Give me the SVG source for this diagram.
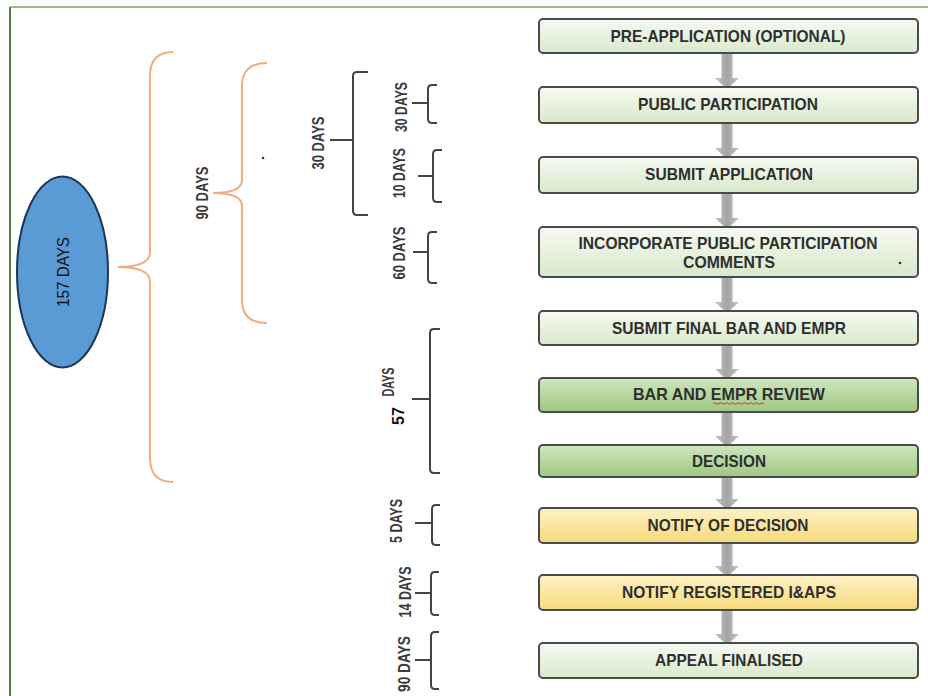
<svg xmlns="http://www.w3.org/2000/svg" width="928" height="696" viewBox="0 0 928 696">
<defs>
<linearGradient id="gLight" x1="0" y1="0" x2="0" y2="1"><stop offset="0" stop-color="#f6faf2"/><stop offset="1" stop-color="#d8e9cb"/></linearGradient>
<linearGradient id="gGreen" x1="0" y1="0" x2="0" y2="1"><stop offset="0" stop-color="#cfe6bf"/><stop offset="1" stop-color="#9dc882"/></linearGradient>
<linearGradient id="gYellow" x1="0" y1="0" x2="0" y2="1"><stop offset="0" stop-color="#fff3c6"/><stop offset="1" stop-color="#f5d97a"/></linearGradient>
<linearGradient id="gArrow" x1="0" y1="0" x2="1" y2="0"><stop offset="0" stop-color="#c4c4c4"/><stop offset="0.5" stop-color="#a4a4a4"/><stop offset="1" stop-color="#c4c4c4"/></linearGradient>
</defs>
<style>
.box{stroke:#4a4a4a;stroke-width:2}
.lt{fill:url(#gLight)}
.gr{fill:url(#gGreen)}
.ye{fill:url(#gYellow)}
.bt{font-family:"Liberation Sans",Arial,sans-serif;font-weight:bold;font-size:16.5px;fill:#2f2f2f;text-anchor:middle}
.lab{font-family:"Liberation Sans",Arial,sans-serif;font-weight:bold;font-size:16px;fill:#3a3a3a;text-anchor:middle}
.brk{fill:none;stroke:#444;stroke-width:2;stroke-linejoin:round}
.brace{fill:none;stroke:#f2ad7e;stroke-width:2}
.arrow{fill:url(#gArrow)}
</style>
<rect width="928" height="696" fill="#ffffff"/>
<g id="frame">
<line x1="10" y1="7" x2="10" y2="696" stroke="#4e7b3a" stroke-width="2"/>
<line x1="10" y1="7" x2="928" y2="7" stroke="#7aa35e" stroke-width="1.5"/>
</g>

<g id="connectors">
<path class="arrow" d="M721.5,53 H732.5 V78 H739 L727,89 L715,78 H721.5 Z"/>
<path class="arrow" d="M721.5,123 H732.5 V148 H739 L727,159 L715,148 H721.5 Z"/>
<path class="arrow" d="M721.5,193 H732.5 V218 H739 L727,229 L715,218 H721.5 Z"/>
<path class="arrow" d="M721.5,277 H732.5 V302 H739 L727,313 L715,302 H721.5 Z"/>
<path class="arrow" d="M721.5,345 H732.5 V369 H739 L727,380 L715,369 H721.5 Z"/>
<path class="arrow" d="M721.5,412 H732.5 V436 H739 L727,447 L715,436 H721.5 Z"/>
<path class="arrow" d="M721.5,477 H732.5 V499 H739 L727,510 L715,499 H721.5 Z"/>
<path class="arrow" d="M721.5,543 H732.5 V566 H739 L727,577 L715,566 H721.5 Z"/>
<path class="arrow" d="M721.5,610 H732.5 V634 H739 L727,645 L715,634 H721.5 Z"/>
</g>

<g id="n1"><rect class="box lt" x="539" y="19" width="379" height="34" rx="4"/><text class="bt" x="728" y="42" textLength="235" lengthAdjust="spacingAndGlyphs">PRE-APPLICATION (OPTIONAL)</text></g>
<g id="n2"><rect class="box lt" x="539" y="87" width="379" height="36" rx="4"/><text class="bt" x="728" y="110" textLength="180" lengthAdjust="spacingAndGlyphs">PUBLIC PARTICIPATION</text></g>
<g id="n3"><rect class="box lt" x="539" y="157" width="379" height="36" rx="4"/><text class="bt" x="729" y="180" textLength="168" lengthAdjust="spacingAndGlyphs">SUBMIT APPLICATION</text></g>
<g id="n4"><rect class="box lt" x="539" y="227" width="379" height="50" rx="4"/><text class="bt" x="728" y="249" textLength="299" lengthAdjust="spacingAndGlyphs">INCORPORATE PUBLIC PARTICIPATION</text><text class="bt" x="729" y="268" textLength="92" lengthAdjust="spacingAndGlyphs">COMMENTS</text><circle cx="900" cy="263" r="1.3" fill="#333"/></g>
<g id="n5"><rect class="box lt" x="539" y="311" width="379" height="34" rx="4"/><text class="bt" x="729" y="334" textLength="234" lengthAdjust="spacingAndGlyphs">SUBMIT FINAL BAR AND EMPR</text></g>
<g id="n6"><rect class="box gr" x="539" y="378" width="379" height="34" rx="4"/><text class="bt" x="729" y="400" textLength="192" lengthAdjust="spacingAndGlyphs">BAR AND EMPR REVIEW</text><path d="M713,403.5 q1.5,-1.5 3,0 t3,0 t3,0 t3,0 t3,0 t3,0 t3,0 t3,0 t3,0 t3,0 t3,0 t3,0 t3,0 t3,0 t3,0 t3,0 t3,0" fill="none" stroke="#d9302a" stroke-width="1"/></g>
<g id="n7"><rect class="box gr" x="539" y="445" width="379" height="32" rx="4"/><text class="bt" x="729" y="467" textLength="74" lengthAdjust="spacingAndGlyphs">DECISION</text></g>
<g id="n8"><rect class="box ye" x="539" y="508" width="379" height="35" rx="4"/><text class="bt" x="728" y="531" textLength="161" lengthAdjust="spacingAndGlyphs">NOTIFY OF DECISION</text></g>
<g id="n9"><rect class="box ye" x="539" y="575" width="379" height="35" rx="4"/><text class="bt" x="729" y="598" textLength="214" lengthAdjust="spacingAndGlyphs">NOTIFY REGISTERED I&amp;APS</text></g>
<g id="n10"><rect class="box lt" x="539" y="643" width="379" height="35" rx="4"/><text class="bt" x="729" y="666" textLength="148" lengthAdjust="spacingAndGlyphs">APPEAL FINALISED</text></g>

<g id="total">
<ellipse cx="62.5" cy="272" rx="45.5" ry="95.5" fill="#5b9bd5" stroke="#1e3656" stroke-width="2"/>
<text transform="translate(62.5,272) rotate(-90)" y="6" text-anchor="middle" font-family="'Liberation Sans',Arial,sans-serif" font-size="17" fill="#111" textLength="70" lengthAdjust="spacingAndGlyphs">157 DAYS</text>
</g>

<g id="brace157"><path class="brace" d="M173,52 Q150,52 150,76 L150,252 Q150,267 118,267 Q150,267 150,282 L150,458 Q150,482 173,482"/></g>
<g id="brace90">
<path class="brace" d="M267,63 Q242,63 242,86 L242,180 Q242,193 213,193 Q242,193 242,206 L242,300 Q242,323 267,323"/>
<text class="lab" transform="translate(202,193) rotate(-90)" y="6" textLength="53" lengthAdjust="spacingAndGlyphs">90  DAYS</text>
<circle cx="263" cy="158" r="1.3" fill="#333"/>
</g>

<g id="b30big">
<path class="brk" d="M368,72 H357 Q353,72 353,76 V211 Q353,215 357,215 H368 M330,140 H353"/>
<text class="lab" transform="translate(318,143) rotate(-90)" y="6" textLength="53" lengthAdjust="spacingAndGlyphs">30  DAYS</text>
</g>
<g id="b30">
<path class="brk" d="M437,85 H432 Q428,85 428,89 V119 Q428,123 432,123 H437 M412,103 H428"/>
<text class="lab" transform="translate(401,107) rotate(-90)" y="6" textLength="50" lengthAdjust="spacingAndGlyphs">30  DAYS</text>
</g>
<g id="b10">
<path class="brk" d="M442,150 H437 Q433,150 433,154 V198 Q433,202 437,202 H442 M418,176 H433"/>
<text class="lab" transform="translate(399,173) rotate(-90)" y="6" textLength="50" lengthAdjust="spacingAndGlyphs">10 DAYS</text>
</g>
<g id="b60">
<path class="brk" d="M437,232 H432 Q428,232 428,236 V279 Q428,283 432,283 H437 M413,252 H428"/>
<text class="lab" transform="translate(399,253) rotate(-90)" y="6" textLength="53" lengthAdjust="spacingAndGlyphs">60 DAYS</text>
</g>
<g id="b57">
<path class="brk" d="M440,329 H434 Q430,329 430,333 V469 Q430,473 434,473 H440 M412,399 H430"/>
<text class="lab" transform="translate(388,382) rotate(-90)" y="6" textLength="29" lengthAdjust="spacingAndGlyphs">DAYS</text>
<text transform="translate(398,416) rotate(-90)" y="6" text-anchor="middle" font-family="'Liberation Sans',Arial,sans-serif" font-weight="bold" font-size="16" fill="#111">57</text>
</g>
<g id="b5">
<path class="brk" d="M440,505 H436 Q432,505 432,509 V541 Q432,545 436,545 H440 M415,523 H432"/>
<text class="lab" transform="translate(396,521) rotate(-90)" y="6" textLength="44" lengthAdjust="spacingAndGlyphs">5 DAYS</text>
</g>
<g id="b14">
<path class="brk" d="M439,572 H435 Q431,572 431,576 V611 Q431,615 435,615 H439 M415,593 H431"/>
<text class="lab" transform="translate(405,592) rotate(-90)" y="6" textLength="51" lengthAdjust="spacingAndGlyphs">14  DAYS</text>
</g>
<g id="b90">
<path class="brk" d="M439,632 H435 Q431,632 431,636 V685 Q431,689 435,689 H439 M415,660 H431"/>
<text class="lab" transform="translate(404,664) rotate(-90)" y="6" textLength="56" lengthAdjust="spacingAndGlyphs">90  DAYS</text>
</g>
</svg>
